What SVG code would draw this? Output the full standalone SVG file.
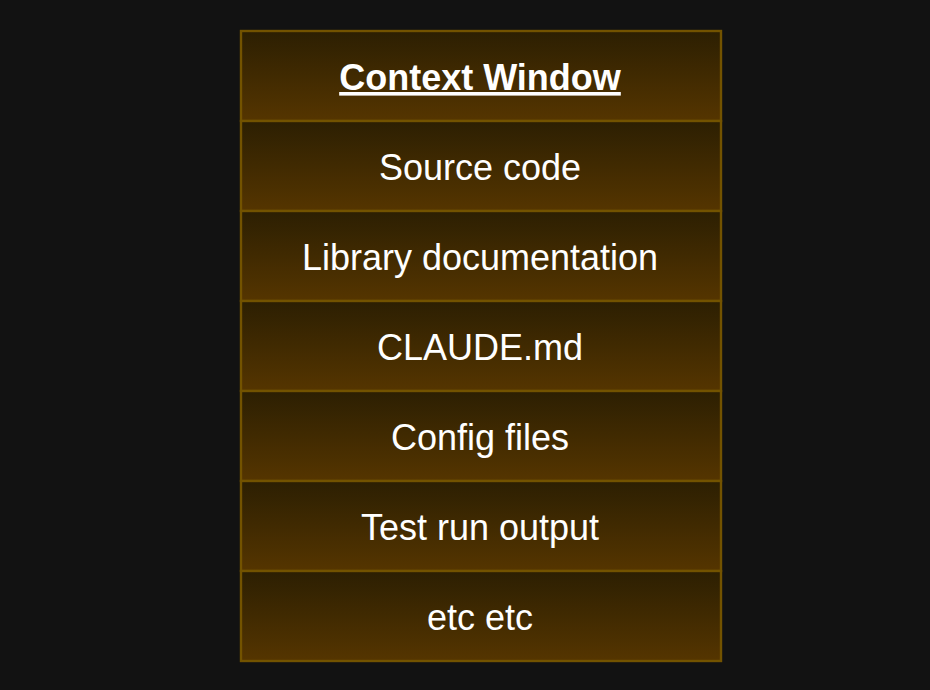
<svg xmlns="http://www.w3.org/2000/svg" width="930" height="690" viewBox="0 0 930 690">
<defs>
<linearGradient id="g" x1="0" y1="0" x2="0" y2="1">
<stop offset="0" stop-color="#2c1f02"/>
<stop offset="1" stop-color="#553500"/>
</linearGradient>
<style>
.row{fill:url(#g);stroke:#735300;stroke-width:2.4}
.t{font-family:"Liberation Sans",Arial,sans-serif;font-size:36px;fill:#ffffff;text-anchor:middle}
.h{font-weight:bold;text-decoration:underline}
</style>
</defs>
<rect width="930" height="690" fill="#121212"/>
<g id="title"><rect class="row" x="241" y="31" width="480" height="90"/><text class="t h" x="480" y="90">Context Window</text></g>
<g id="source"><rect class="row" x="241" y="121" width="480" height="90"/><text class="t" x="480" y="180">Source code</text></g>
<g id="library"><rect class="row" x="241" y="211" width="480" height="90"/><text class="t" x="480" y="270">Library documentation</text></g>
<g id="claude"><rect class="row" x="241" y="301" width="480" height="90"/><text class="t" x="480" y="360">CLAUDE.md</text></g>
<g id="config"><rect class="row" x="241" y="391" width="480" height="90"/><text class="t" x="480" y="450">Config files</text></g>
<g id="test"><rect class="row" x="241" y="481" width="480" height="90"/><text class="t" x="480" y="540">Test run output</text></g>
<g id="etc"><rect class="row" x="241" y="571" width="480" height="90"/><text class="t" x="480" y="630">etc etc</text></g>
<g id="connectors"></g>
</svg>
